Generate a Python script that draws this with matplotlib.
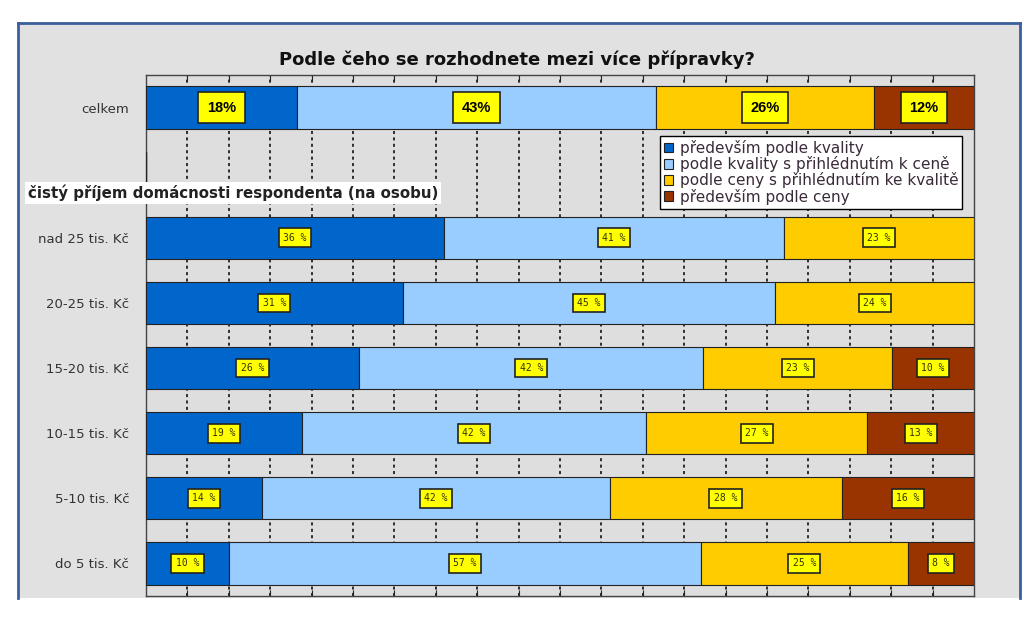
import matplotlib.pyplot as plt
import numpy as np
from matplotlib.patches import Rectangle
from matplotlib.lines import Line2D

# data
radky = ['celkem', '', 'nad 25 tis. Kč', '20-25 tis. Kč', '15-20 tis. Kč',
         '10-15 tis. Kč', '5-10 tis. Kč', 'do 5 tis. Kč']
kvalita = [18, np.nan, 36, 31, 26, 19, 14, 10]
kvalita_cena = [43, np.nan, 41, 45, 42, 42, 42, 57]
cena_kvalita = [26, np.nan, 23, 24, 23, 27, 28, 25]
cena = [12, np.nan, 0, 0, 10, 13, 16, 8]
serie = ['především podle kvality', 'podle kvality s přihlédnutím k ceně',
         'podle ceny s přihlédnutím ke kvalitě', 'především podle ceny']
barvy = ['#0066CC', '#99CCFF', '#FFCC00', '#993300']

data = np.array([kvalita, kvalita_cena, cena_kvalita, cena], dtype=float)
podily = data / np.nansum(data, axis=0) * 100

fig = plt.figure(figsize=(10.24, 6.19), dpi=100)
fig.patch.set_facecolor('white')

# sedy ramecek s modrym okrajem
bg = Rectangle((18 / 1024, 21 / 619), 1002 / 1024, 576 / 619, transform=fig.transFigure,
               facecolor='#E1E1E1', edgecolor='none', zorder=-10)
fig.patches.append(bg)
x0, x1, yt, yb = 18 / 1024, 1020 / 1024, 1 - 23 / 619, 21 / 619
for xs, ys in [([x0, x0], [yb, yt]), ([x0, x1], [yt, yt]), ([x1, x1], [yt, yb])]:
    fig.lines.append(Line2D(xs, ys, transform=fig.transFigure, color='#3A5F9A', lw=2))

ax = fig.add_axes([146 / 1024, 23 / 619, 828 / 1024, 521 / 619])
ax.set_facecolor('#DEDEDE')

ypos = np.arange(len(radky))
left = np.zeros(len(radky))
for i in range(4):
    vals = np.nan_to_num(podily[i])
    ax.barh(ypos, vals, left=left, height=0.65, color=barvy[i], edgecolor='#222222',
            linewidth=0.8, label=serie[i], zorder=3)
    for j in range(len(radky)):
        v = data[i, j]
        if np.isnan(v) or v == 0:
            continue
        xc = left[j] + vals[j] / 2
        if j == 0:
            ax.text(xc, ypos[j], '%d%%' % v, ha='center', va='center', fontsize=10.5,
                    fontweight='bold', family='Liberation Sans', color='black', zorder=5,
                    bbox=dict(boxstyle='square,pad=0.6', fc='#FFFF00', ec='#222222', lw=1.2))
        else:
            ax.text(xc, ypos[j], '%d %%' % v, ha='center', va='center', fontsize=7,
                    family='DejaVu Sans Mono', color='#333300', zorder=5,
                    bbox=dict(boxstyle='square,pad=0.45', fc='#FFFF00', ec='#222222', lw=1.2))
    left = left + vals

ax.set_xlim(0, 100)
ax.set_ylim(len(radky) - 0.5, -0.5)
ax.set_yticks(ypos)
ax.set_yticklabels(radky, fontsize=9.5, color='#333333')
ax.tick_params(axis='y', length=0, pad=12)
ax.set_xticks(np.arange(5, 100, 5))
ax.set_xticklabels([])
ax.tick_params(axis='x', direction='in', length=4, top=True, bottom=True, color='#222222')
ax.grid(axis='x', color='black', linestyle=(0, (2, 2.2)), linewidth=1.1, zorder=1)
ax.set_axisbelow(True)
for s in ax.spines.values():
    s.set_color('#444444')
    s.set_linewidth(1)

leg = ax.legend(loc='upper right', bbox_to_anchor=(0.9855, 0.883), borderaxespad=0,
                fontsize=11, handlelength=0.6, handleheight=0.6, handletextpad=0.4,
                labelspacing=0.02, fancybox=False, framealpha=1, edgecolor='black',
                borderpad=0.25)
for t in leg.get_texts():
    t.set_color('#3A2A3A')
leg.set_zorder(6)

fig.text(517 / 1024, 1 - 60 / 619, 'Podle čeho se rozhodnete mezi více přípravky?',
         ha='center', va='center', fontsize=13, fontweight='bold', color='#111111')
fig.text(28 / 1024, 1 - 193 / 619, 'čistý příjem domácnosti respondenta (na osobu)',
         ha='left', va='center', fontsize=10.8, fontweight='bold', color='#222222', zorder=10,
         bbox=dict(boxstyle='square,pad=0.2', fc='white', ec='none'))

fig.savefig('out.png', dpi=100)
